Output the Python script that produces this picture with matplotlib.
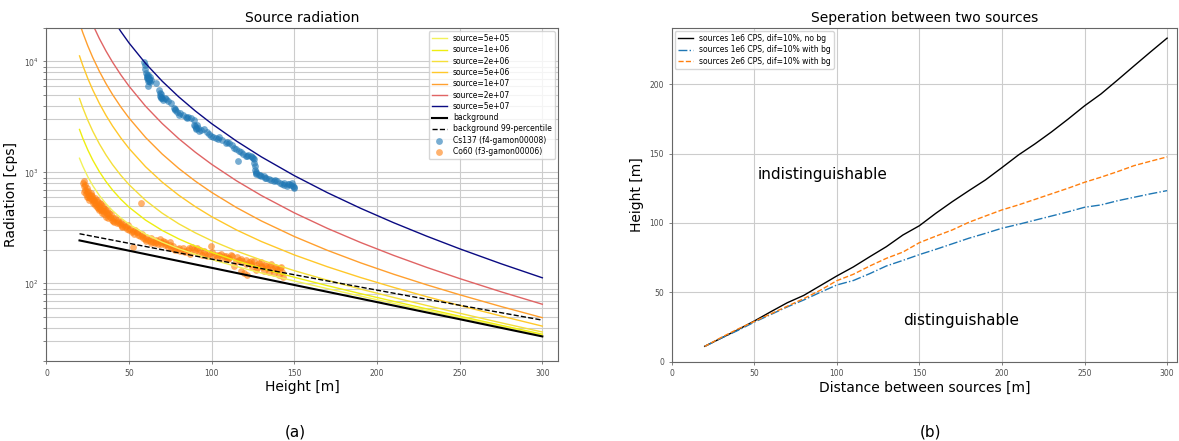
import matplotlib
matplotlib.use("Agg")
import matplotlib.pyplot as plt

# ---- source radiation vs. height ----
heights = [20, 22, 25, 28, 32, 36, 40, 45, 50, 60, 70, 80, 90, 100, 115, 130,
           150, 170, 190, 210, 230, 250, 275, 300]

background = [244.0, 240.6, 235.5, 230.5, 224.0, 217.8, 211.7, 204.3, 197.1, 183.6,
              171.0, 159.3, 148.3, 138.2, 124.2, 111.6, 96.8, 84.0, 72.9, 63.2,
              54.8, 47.6, 39.8, 33.3]
background_p99 = [280.3, 276.6, 271.2, 265.8, 258.9, 252.1, 245.5, 237.5, 229.8, 215.1,
                  201.4, 188.6, 176.7, 165.5, 150.1, 136.2, 119.7, 105.3, 92.7, 81.7,
                  72.0, 63.6, 54.5, 46.7]

source_labels = ["5e+05", "1e+06", "2e+06", "5e+06", "1e+07", "2e+07", "5e+07"]
source_colors = ["#f2f25a", "#eeee10", "#f5df3a", "#ffc82a", "#ff9f2e", "#e06464", "#0a0a82"]

src_5e5 = [1342, 1136, 915.5, 762.2, 620.6, 523.1, 452.6, 388.6, 341.6, 277.6, 235.7,
           205.7, 182.7, 164.3, 142.1, 124.3, 105.2, 89.7, 76.9, 66.1, 56.9, 49.2, 40.9, 34.1]
src_1e6 = [2439, 2031, 1596, 1294, 1017, 828.4, 693.5, 572.9, 486.1, 371.6, 300.4,
           252.1, 217.1, 190.4, 160.0, 137.0, 113.6, 95.5, 80.9, 69.0, 59.0, 50.7, 42.0, 34.9]
src_2e6 = [4634, 3822, 2956, 2357, 1810, 1439, 1175, 941.5, 775.1, 559.6, 429.8,
           344.9, 285.9, 242.6, 195.8, 162.4, 130.3, 106.9, 89.0, 74.8, 63.3, 53.9, 44.2, 36.5]
src_5e6 = [11220, 9195, 7036, 5547, 4190, 3271, 2621, 2047, 1642, 1124, 818.4,
           623.7, 492.2, 399.2, 303.2, 238.7, 180.6, 141.3, 113.1, 92.15, 76.02, 63.31, 50.88, 41.23]
src_1e7 = [22200, 18150, 13840, 10860, 8156, 6324, 5031, 3890, 3087, 2064, 1466,
           1088, 836.1, 660.2, 482.2, 365.8, 264.5, 198.6, 153.4, 121.1, 97.21, 79.06, 61.94, 49.14]
src_2e7 = [44150, 36060, 27440, 21500, 16090, 12430, 9850, 7576, 5977, 3945, 2761,
           2017, 1524, 1182, 840.3, 620.0, 432.1, 313.2, 234.0, 179.0, 139.6, 110.6, 84.08, 64.94]
src_5e7 = [110000, 89780, 68240, 53390, 39880, 30750, 24310, 18630, 14650, 9587, 6645,
           4804, 3587, 2748, 1915, 1382, 935.0, 657.0, 475.7, 352.7, 266.8, 205.1, 150.5, 112.4]
source_curves = [src_5e5, src_1e6, src_2e6, src_5e6, src_1e7, src_2e7, src_5e7]

# measured flights
cs137_h = [58.9, 59.5, 59.9, 60.3, 60.6, 61.0, 61.5, 61.2, 61.8, 62.0, 62.5, 62.8, 61.5,
           63.5, 66.3, 68.2, 68.6, 68.8, 69.0, 69.3, 70.0, 71.5, 72.5, 73.5, 75.5, 77.2,
           77.6, 78.0, 79.0, 80.0, 80.5, 82.7, 84.5, 85.7, 87.7, 89.0, 89.5, 90.0, 90.5,
           91.0, 92.5, 93.5, 95.5, 97.0, 98.5, 100.5, 102.5, 104.5, 106.5, 108.5, 110.5,
           112.0, 113.5, 114.5, 115.9, 117.5, 119.0, 120.5, 122.0, 123.5, 124.5, 125.3,
           125.8, 126.0, 126.3, 126.6, 127.0, 128.5, 130.0, 131.5, 133.0, 134.5, 136.0,
           137.5, 139.5, 141.0, 142.5, 144.0, 145.5, 147.0, 148.0, 149.0, 149.5, 150.0,
           60.8, 61.3, 62.3, 69.5, 70.5, 85.0, 90.2, 91.5, 99.5, 103.5, 109.5, 116.5,
           121.5, 125.0, 126.8, 129.0, 132.5, 138.5, 143.5, 146.0, 148.5]
cs137_cps = [9930, 9200, 8470, 7900, 7480, 7300, 7600, 7050, 6900, 6650, 7200, 6500, 5980,
             6800, 6340, 5500, 5200, 4900, 4650, 5050, 4640, 4700, 4550, 4400, 4250, 3800,
             3650, 3720, 3530, 3320, 3450, 3260, 3150, 3190, 3120, 2980, 2700, 2600, 2540,
             2650, 2350, 2420, 2440, 2300, 2200, 2070, 2060, 2070, 1980, 1850, 1850,
             1760, 1670, 1610, 1265, 1520, 1470, 1420, 1430, 1420, 1380, 1310,
             1220, 1150, 1060, 990, 960, 940, 920, 930, 900, 870, 860,
             830, 830, 800, 790, 770, 750, 790, 770, 760, 740, 720,
             7100, 6700, 7000, 4800, 4500, 3100, 2480, 2500, 2150, 2000, 1900, 1560,
             1400, 1350, 1000, 950, 890, 850, 800, 780, 800]

co60_h = [22.3, 22.8, 23.3, 22.7, 23.5, 24.0, 24.3, 24.8, 25.3, 25.8, 26.3, 26.8, 27.3,
          27.8, 28.0, 28.6, 29.2, 29.5, 30.0, 30.5, 31.0, 31.5, 32.0, 32.5, 33.0, 33.5,
          34.0, 34.5, 35.0, 35.5, 36.0, 36.8, 37.5, 38.5, 39.0, 39.8, 40.5, 41.5, 42.5,
          43.5, 44.5, 45.5, 46.5, 47.5, 48.5, 49.5, 50.5, 51.5, 52.3, 52.5, 53.5, 54.5,
          55.5, 56.5, 57.2, 57.8, 58.5, 59.5, 60.5, 61.5, 62.5, 63.5, 64.5, 65.5, 66.5,
          67.5, 68.5, 69.5, 70.5, 71.5, 72.5, 73.5, 74.5, 75.5, 76.5, 78.0, 79.5, 81.0,
          82.5, 84.0, 85.5, 87.0, 88.0, 89.5, 91.0, 92.5, 94.0, 95.5, 97.0, 98.5, 99.5,
          101.0, 102.5, 104.5, 106.0, 107.5, 108.5, 110.0, 110.5, 112.0, 113.5, 114.5,
          116.5, 117.5, 118.5, 119.5, 120.5, 121.5, 122.5, 123.5, 124.5, 125.5, 126.5,
          127.5, 128.5, 129.5, 130.5, 131.5, 132.5, 133.5, 134.5, 135.5, 136.5, 137.5,
          138.5, 139.5, 140.5, 141.5, 142.5, 143.0,
          23.0, 24.5, 25.0, 26.0, 27.0, 28.3, 29.0, 30.3, 31.2, 32.3, 33.3, 34.3, 35.3,
          36.5, 37.0, 38.0, 40.0, 41.0, 43.0, 45.0, 46.0, 48.0, 50.0, 53.0, 55.0, 58.0,
          60.0, 63.0, 66.0, 69.0, 72.0, 75.0, 77.0, 80.0, 83.0, 86.0, 90.0, 93.0, 96.0,
          100.0, 103.0, 105.5, 109.0, 111.5, 115.5, 118.0, 121.0, 124.0, 127.0, 130.0,
          133.0, 136.0, 139.0, 142.0]
co60_cps = [807, 760, 763, 660, 700, 640, 665, 720, 600, 630, 590, 650, 570,
            610, 530, 560, 510, 590, 520, 490, 540, 460, 500, 470, 520, 435,
            480, 450, 420, 470, 400, 430, 390, 395, 420, 370, 365, 385, 350,
            360, 345, 330, 340, 320, 310, 335, 310, 290, 214, 295, 300, 288,
            275, 265, 533, 280, 258, 250, 262, 245, 240, 255, 236, 230, 238,
            228, 250, 235, 240, 222, 225, 215, 235, 210, 218, 200, 205, 195,
            208, 190, 200, 185, 215, 205, 210, 188, 182, 195, 178, 186, 216,
            176, 180, 182, 170, 178, 176, 165, 171, 176, 143, 160,
            164, 130, 158, 124, 162, 118, 155, 150, 140, 158, 148,
            138, 152, 145, 140, 130, 148, 138, 128, 143, 135, 125,
            140, 132, 120, 137, 128, 115,
            830, 600, 680, 560, 620, 580, 545, 560, 480, 530, 455, 500, 445,
            455, 410, 430, 390, 360, 375, 355, 320, 330, 300, 280, 290, 270,
            240, 230, 245, 225, 235, 220, 205, 210, 195, 210, 195, 200, 185,
            190, 170, 186, 168, 180, 172, 165, 150, 160, 132, 155,
            145, 150, 138, 142]

# ---- minimum separable height vs. distance between sources ----
distance = [20, 30, 40, 50, 60, 70, 80, 90, 100, 110, 120, 130, 140, 150, 160, 170,
            180, 190, 200, 210, 220, 230, 240, 250, 260, 270, 280, 290, 300]
sep_1e6_no_bg = [11.1, 17.0, 23.0, 29.3, 36.0, 42.5, 47.8, 54.8, 61.8, 68.3, 75.7, 82.9,
                 91.3, 98.0, 107.0, 115.4, 123.3, 131.0, 139.9, 149.0, 157.0, 165.6,
                 174.8, 184.4, 193.0, 203.0, 213.2, 223.3, 233.2]
sep_1e6_bg = [11.0, 17.0, 22.5, 28.5, 34.0, 39.5, 44.5, 50.0, 55.3, 58.5, 63.5, 69.0,
              73.0, 77.2, 81.0, 85.0, 89.0, 92.5, 96.2, 99.0, 102.0, 105.0, 108.0,
              111.3, 113.0, 116.0, 118.5, 121.0, 123.3]
sep_2e6_bg = [11.0, 17.5, 23.5, 29.0, 34.5, 40.0, 45.5, 51.5, 58.4, 63.0, 69.0, 74.5,
              79.0, 85.8, 90.5, 95.0, 100.5, 105.0, 109.4, 113.0, 117.0, 121.0, 125.0,
              129.3, 133.0, 137.0, 141.3, 144.5, 147.6]


def style_axes(ax):
    ax.tick_params(which="both", labelsize=5.5, length=2, width=0.5, colors="0.3")
    for spine in ax.spines.values():
        spine.set_color("0.4")
        spine.set_linewidth(0.8)


fig = plt.figure(figsize=(11.79, 4.41), dpi=100)
ax1 = fig.add_axes([0.0394, 0.1814, 0.4339, 0.755])
ax2 = fig.add_axes([0.5697, 0.1798, 0.4286, 0.7567])

for label, color, values in zip(source_labels, source_colors, source_curves):
    ax1.plot(heights, values, color=color, lw=1, label=f"source={label}")
ax1.plot(heights, background, color="black", lw=1.5, label="background")
ax1.plot(heights, background_p99, color="black", lw=1, ls="--", label="background 99-percentile")
ax1.scatter(cs137_h, cs137_cps, s=24, color="#1f77b4", alpha=0.6, lw=0,
            label="Cs137 (f4-gamon00008)")
ax1.scatter(co60_h, co60_cps, s=24, color="#ff7f0e", alpha=0.6, lw=0,
            label="Co60 (f3-gamon00006)")

ax1.set_yscale("log")
ax1.set_xlim(0, 309.5)
ax1.set_ylim(20, 2e4)
ax1.grid(True, which="both", color="0.8", lw=0.8)
ax1.set_axisbelow(True)
ax1.set_title("Source radiation", fontsize=10, pad=4)
ax1.set_xlabel("Height [m]", fontsize=10, labelpad=2)
ax1.set_ylabel("Radiation [cps]", fontsize=10, labelpad=4)
ax1.legend(loc="upper right", fontsize=5.5, labelspacing=0.3, borderaxespad=0.4)
style_axes(ax1)

ax2.plot(distance, sep_1e6_no_bg, color="black", lw=1, label="sources 1e6 CPS, dif=10%, no bg")
ax2.plot(distance, sep_1e6_bg, color="#1f77b4", lw=1, ls="-.", label="sources 1e6 CPS, dif=10% with bg")
ax2.plot(distance, sep_2e6_bg, color="#ff7f0e", lw=1, ls="--", label="sources 2e6 CPS, dif=10% with bg")
ax2.text(52, 135, "indistinguishable", fontsize=11, va="center")
ax2.text(140, 30, "distinguishable", fontsize=11, va="center")
ax2.set_xlim(0, 306)
ax2.set_ylim(0, 240.5)
ax2.grid(True, color="0.8", lw=0.8)
ax2.set_axisbelow(True)
ax2.set_title("Seperation between two sources", fontsize=10, pad=4)
ax2.set_xlabel("Distance between sources [m]", fontsize=10, labelpad=2)
ax2.set_ylabel("Height [m]", fontsize=10, labelpad=4)
ax2.legend(loc="upper left", fontsize=5.5, labelspacing=0.3, borderaxespad=0.4)
style_axes(ax2)

fig.text(0.2502, 0.0204, "(a)", fontsize=11, ha="center", va="center")
fig.text(0.789, 0.0204, "(b)", fontsize=11, ha="center", va="center")

fig.savefig("out.png", dpi=100)
